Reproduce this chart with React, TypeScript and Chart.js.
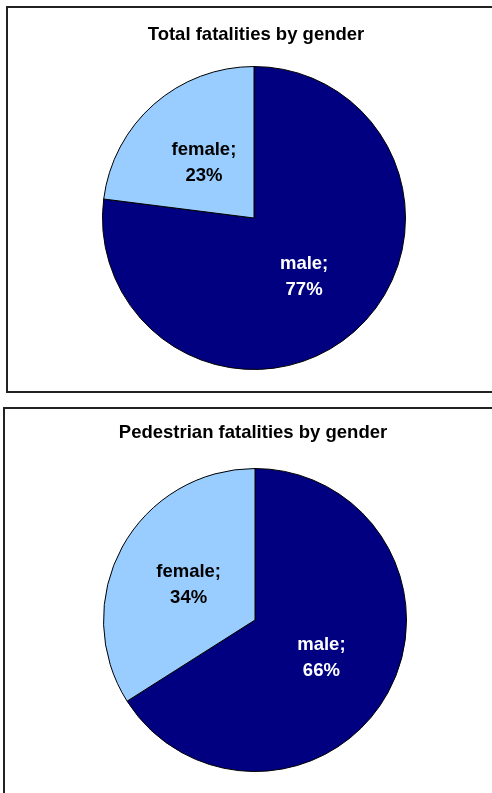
import React, { useEffect, useRef } from "react";
import { Chart, registerables } from "chart.js";

Chart.register(...registerables);

// Gender split of road fatalities (percent)
const categories = ["male", "female"];
const totalValues = [77, 23];
const pedestrianValues = [66, 34];
const titles = ["Total fatalities by gender", "Pedestrian fatalities by gender"];

const sliceColors = ["#000080", "#99CCFF"];
const labelColors = ["#ffffff", "#000000"];
const FONT = '"Liberation Sans", Arial, Helvetica, sans-serif';

type PieProps = {
  title: string;
  values: number[];
  width: number;
  height: number;
  titleY: number;
  labelShift: number;
  pad: { left: number; right: number; top: number; bottom: number };
};

function GenderPie({ title, values, width, height, titleY, labelShift, pad }: PieProps) {
  const ref = useRef<HTMLCanvasElement | null>(null);

  useEffect(() => {
    if (!ref.current) return;

    // Title centred above the pie
    const titlePlugin = {
      id: "pieTitle",
      afterDraw(chart: any) {
        const ctx = chart.ctx;
        ctx.save();
        ctx.font = `bold 18.5px ${FONT}`;
        ctx.fillStyle = "#000";
        ctx.textAlign = "center";
        ctx.textBaseline = "middle";
        ctx.fillText(title, chart.width / 2, titleY);
        ctx.restore();
      },
    };

    // "category; value%" labels inside each slice
    const sliceLabels = {
      id: "sliceLabels",
      afterDatasetsDraw(chart: any) {
        const ctx = chart.ctx;
        const meta = chart.getDatasetMeta(0);
        ctx.save();
        ctx.font = `bold 18.5px ${FONT}`;
        ctx.textAlign = "center";
        ctx.textBaseline = "middle";
        meta.data.forEach((arc: any, i: number) => {
          const { x, y, startAngle, endAngle, outerRadius } = arc.getProps(
            ["x", "y", "startAngle", "endAngle", "outerRadius"],
            true
          );
          const mid = (startAngle + endAngle) / 2;
          const r = outerRadius * 0.5;
          const cx = x + Math.cos(mid) * r;
          const cy = y + Math.sin(mid) * r + labelShift;
          ctx.fillStyle = labelColors[i];
          ctx.fillText(`${categories[i]};`, cx, cy - 13);
          ctx.fillText(`${values[i]}%`, cx, cy + 13);
        });
        ctx.restore();
      },
    };

    const chart = new Chart(ref.current, {
      type: "pie",
      data: {
        labels: categories,
        datasets: [
          {
            data: values,
            backgroundColor: sliceColors,
            borderColor: "#000000",
            borderWidth: 1,
          },
        ],
      },
      options: {
        responsive: false,
        animation: false,
        layout: { padding: pad },
        plugins: {
          legend: { display: false },
          tooltip: { enabled: false },
          title: { display: false },
        },
      },
      plugins: [titlePlugin, sliceLabels],
    });

    return () => chart.destroy();
  }, [title, values, width, height, titleY, labelShift, pad]);

  return <canvas ref={ref} width={width} height={height} style={{ display: "block" }} />;
}

const boxStyle: React.CSSProperties = {
  position: "absolute",
  border: "2px solid #222",
  background: "#fff",
  boxSizing: "border-box",
};

const padTop = { left: 94, right: 496 - 398, top: 58, bottom: 383 - 362 };
const padBottom = { left: 98, right: 496 - 402, top: 59, bottom: 396 - 363 };

export default function App() {
  return (
    <div
      style={{
        position: "fixed",
        left: 0,
        top: 0,
        width: "100vw",
        height: "100vh",
        overflow: "hidden",
        background: "#fff",
      }}
    >
      <div style={{ ...boxStyle, left: 6, top: 6, width: 500, height: 387 }}>
        <GenderPie
          title={titles[0]}
          values={totalValues}
          width={496}
          height={383}
          titleY={27}
          labelShift={2}
          pad={padTop}
        />
      </div>
      <div style={{ ...boxStyle, left: 3, top: 407, width: 500, height: 400 }}>
        <GenderPie
          title={titles[1]}
          values={pedestrianValues}
          width={496}
          height={396}
          titleY={24}
          labelShift={1}
          pad={padBottom}
        />
      </div>
    </div>
  );
}
